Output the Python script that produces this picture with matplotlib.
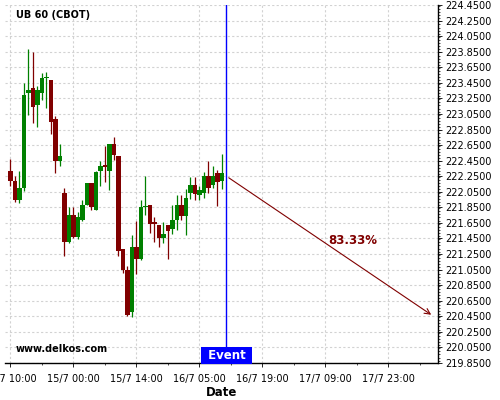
import matplotlib
matplotlib.use('Agg')
import matplotlib.pyplot as plt
from matplotlib.ticker import MultipleLocator, FormatStrFormatter
import numpy as np

# hourly candles
opens = [222.32, 222.19, 221.95, 222.10, 223.32, 223.38, 223.17, 223.32, 223.51, 223.49,
         222.99, 222.45, 222.03, 221.41, 221.75, 221.47, 221.69, 221.88, 222.16, 221.82,
         222.32, 222.39, 222.32, 222.66, 222.51, 221.32, 221.04, 220.50, 221.34, 221.19,
         221.85, 221.88, 221.66, 221.62, 221.45, 221.62, 221.57, 221.69, 221.88, 221.74,
         222.04, 222.14, 222.01, 222.04, 222.25, 222.14, 222.29, 222.19]
highs = [222.47, 222.25, 222.32, 223.45, 223.88, 223.85, 223.41, 223.58, 223.59, 223.49,
         223.02, 222.66, 222.10, 221.85, 221.85, 221.79, 221.94, 222.16, 222.16, 222.32,
         222.44, 222.64, 222.66, 222.76, 222.51, 221.32, 221.10, 221.50, 221.68, 221.94,
         222.25, 221.88, 221.72, 221.62, 221.66, 221.62, 221.88, 222.01, 222.01, 222.08,
         222.24, 222.24, 222.13, 222.30, 222.45, 222.38, 222.33, 222.54]
lows = [222.13, 221.92, 221.90, 222.06, 223.04, 222.94, 222.88, 223.23, 223.13, 222.79,
        222.29, 222.38, 221.22, 221.39, 221.45, 221.44, 221.68, 221.88, 221.82, 221.81,
        222.13, 222.18, 222.07, 222.46, 221.22, 221.01, 220.46, 220.44, 221.00, 221.17,
        221.75, 221.52, 221.40, 221.34, 221.39, 221.18, 221.51, 221.56, 221.69, 221.49,
        221.96, 221.94, 221.94, 221.97, 222.04, 222.10, 221.87, 222.09]
closes = [222.19, 221.95, 222.10, 223.29, 223.36, 223.14, 223.36, 223.51, 223.52, 222.95,
          222.45, 222.51, 221.41, 221.75, 221.47, 221.72, 221.88, 222.16, 221.86, 222.30,
          222.38, 222.37, 222.66, 222.52, 221.29, 221.04, 220.47, 221.34, 221.19, 221.85,
          221.86, 221.63, 221.63, 221.45, 221.51, 221.54, 221.69, 221.88, 221.74, 221.97,
          222.14, 222.02, 222.07, 222.25, 222.10, 222.25, 222.18, 222.29]

tick_pos = [0, 14, 28, 42, 56, 70, 84]
tick_labels = ['14/7 10:00', '15/7 00:00', '15/7 14:00', '16/7 05:00',
               '16/7 19:00', '17/7 09:00', '17/7 23:00']

event_x = 48
target_x = 94
target_y = 220.45
start_y = 222.25
prob_text = '83.33%'

GREEN = '#008000'
RED = '#800000'

fig = plt.figure(figsize=(5, 4), dpi=100)
ax = fig.add_axes([0.01, 0.0925, 0.866, 0.895])

x = np.arange(len(opens))
for i in x:
    o, h, l, c = opens[i], highs[i], lows[i], closes[i]
    col = GREEN if c >= o else RED
    ax.vlines(i, l, h, color=col, linewidth=0.9, zorder=3)
    body = abs(c - o)
    if body < 0.012:
        body = 0.012
    ax.bar(i, body, bottom=min(o, c), width=1.05, color=col, linewidth=0, zorder=4)

ax.set_xlim(-1.2, 95)
ax.set_ylim(219.85, 224.45)

ax.yaxis.tick_right()
ax.yaxis.set_minor_locator(MultipleLocator(0.04))
ax.yaxis.set_major_formatter(FormatStrFormatter('%.4f'))
ax.set_yticks(np.arange(219.85, 224.46, 0.2))

ax.set_xticks(tick_pos)
ax.set_xticklabels(tick_labels)
ax.xaxis.set_minor_locator(MultipleLocator(7))

ax.tick_params(axis='both', which='major', labelsize=7, length=3, width=0.6, pad=2)
ax.tick_params(axis='both', which='minor', length=1.5, width=0.5)
ax.tick_params(axis='x', pad=5)

ax.grid(True, which='major', color='#d2d2d2', linestyle='--', linewidth=0.8, dashes=(2, 2))
ax.set_axisbelow(True)

ax.spines['top'].set_visible(False)
ax.spines['left'].set_visible(False)
ax.spines['right'].set_linewidth(1)
ax.spines['bottom'].set_linewidth(1)

ax.set_xlabel('Date', fontsize=8.5, fontweight='bold', labelpad=1)

# event line + projection arrow
ax.axvline(event_x, color='#0000ff', linewidth=1, zorder=5)
ax.annotate('', xy=(target_x, target_y), xytext=(event_x, start_y),
            arrowprops=dict(arrowstyle='->', color=RED, lw=0.8, mutation_scale=10),
            zorder=5)
ax.text(76, 221.42, prob_text, color=RED, fontsize=8.5, fontweight='bold',
        ha='center', va='center')

ax.text(event_x, 219.85 + 0.095, ' Event ', color='white', fontsize=8.5, fontweight='bold',
        ha='center', va='center', zorder=6,
        bbox=dict(boxstyle='square,pad=0.18', facecolor='#0000ff', edgecolor='none'))

ax.text(0.025, 0.985, 'UB 60 (CBOT)', transform=ax.transAxes, fontsize=7,
        fontweight='bold', ha='left', va='top')
ax.text(0.025, 0.025, 'www.delkos.com', transform=ax.transAxes, fontsize=7,
        fontweight='bold', ha='left', va='bottom')

fig.savefig('out.png', dpi=100)
